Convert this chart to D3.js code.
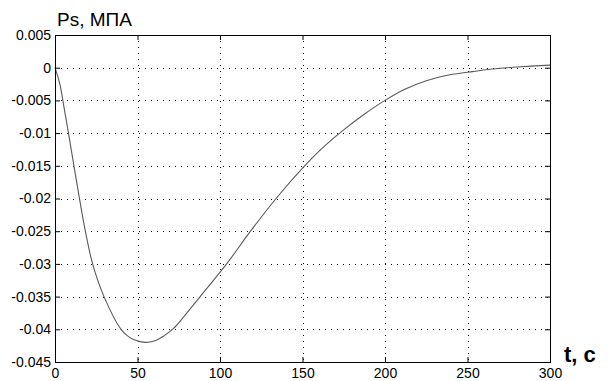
<!DOCTYPE html>
<html>
<head>
<meta charset="utf-8">
<script src="https://cdn.jsdelivr.net/npm/d3@7"></script>
<style>
  body { margin: 0; background: #fff; }
  text { font-family: "Liberation Sans", Arial, sans-serif; fill: #000; }
</style>
</head>
<body>
<div id="chart"></div>
<script>
// values
const timeValues = [0, 3, 5.5, 8.3, 11.6, 14.9, 18.4, 22.8, 29.7, 40, 44, 48, 54.5, 61, 66, 71.7, 78, 88, 104, 118.5, 134, 151, 162, 174, 187, 200, 212, 225, 237, 250, 265, 280, 300];
const pressureValues = [0, -0.0026, -0.0061, -0.0102, -0.0152, -0.0201, -0.025, -0.03, -0.035, -0.04, -0.041, -0.0416, -0.042, -0.0417, -0.041, -0.0399, -0.0381, -0.035, -0.03, -0.025, -0.02, -0.0151, -0.0123, -0.0097, -0.0072, -0.005, -0.0033, -0.002, -0.0012, -0.0007, -0.0002, 0.0001, 0.0004];
const xTicks = [0, 50, 100, 150, 200, 250, 300];
const yTicks = [0.005, 0, -0.005, -0.01, -0.015, -0.02, -0.025, -0.03, -0.035, -0.04, -0.045];

const width = 608, height = 381;
const margin = { top: 35, right: 58, bottom: 19, left: 55 };
const plotW = width - margin.left - margin.right;
const plotH = height - margin.top - margin.bottom;

const svg = d3.select("#chart")
  .append("svg")
  .attr("width", width)
  .attr("height", height);

const xScale = d3.scaleLinear().domain([0, 300]).range([0, plotW]);
const yScale = d3.scaleLinear().domain([-0.045, 0.005]).range([plotH, 0]);

const g = svg.append("g")
  .attr("transform", `translate(${margin.left},${margin.top})`);

// dotted grid
g.append("g")
  .selectAll("line")
  .data(xTicks.slice(1, -1))
  .join("line")
  .attr("x1", d => Math.round(xScale(d)) + 0.5)
  .attr("x2", d => Math.round(xScale(d)) + 0.5)
  .attr("y1", 0)
  .attr("y2", plotH)
  .attr("stroke", "#000")
  .attr("stroke-dasharray", "1,5");

g.append("g")
  .selectAll("line")
  .data(yTicks.slice(1, -1))
  .join("line")
  .attr("x1", 0)
  .attr("x2", plotW)
  .attr("y1", d => Math.round(yScale(d)) + 0.5)
  .attr("y2", d => Math.round(yScale(d)) + 0.5)
  .attr("stroke", "#000")
  .attr("stroke-dasharray", "1,5");

// the curve
const line = d3.line()
  .curve(d3.curveCatmullRom.alpha(0.5))
  .x((d, i) => xScale(timeValues[i]))
  .y(d => yScale(d));

g.append("path")
  .datum(pressureValues)
  .attr("d", line)
  .attr("fill", "none")
  .attr("stroke", "#5a5a5a")
  .attr("stroke-width", 1.1);

// axes, ticks pointing inward
const fmt = d => d === 0 ? "0" : String(+d.toFixed(3));

g.append("g")
  .attr("transform", `translate(0,${plotH})`)
  .call(d3.axisBottom(xScale).tickValues(xTicks).tickSize(-5).tickPadding(4).tickFormat(fmt))
  .call(a => a.select(".domain").remove())
  .selectAll("text")
  .style("font-size", "14px")
  .attr("y", 16)
  .attr("dy", null);

g.append("g")
  .call(d3.axisLeft(yScale).tickValues(yTicks).tickSize(-5).tickPadding(9).tickFormat(fmt))
  .call(a => a.select(".domain").remove())
  .selectAll("text")
  .style("font-size", "14px")
  .attr("x", -4);

g.append("g")
  .call(d3.axisTop(xScale).tickValues(xTicks).tickSize(-5).tickFormat(""))
  .call(a => a.select(".domain").remove());

g.append("g")
  .attr("transform", `translate(${plotW},0)`)
  .call(d3.axisRight(yScale).tickValues(yTicks).tickSize(-5).tickFormat(""))
  .call(a => a.select(".domain").remove());

// box
g.append("rect")
  .attr("x", 0.5)
  .attr("y", 0.5)
  .attr("width", plotW)
  .attr("height", plotH)
  .attr("fill", "none")
  .attr("stroke", "#000");

// labels
svg.append("text")
  .attr("x", 57)
  .attr("y", 26)
  .style("font-size", "19px")
  .text("Ps, МПА");

svg.append("text")
  .attr("x", 564)
  .attr("y", 362)
  .style("font-size", "22px")
  .style("font-weight", "bold")
  .text("t, c");
</script>
</body>
</html>
